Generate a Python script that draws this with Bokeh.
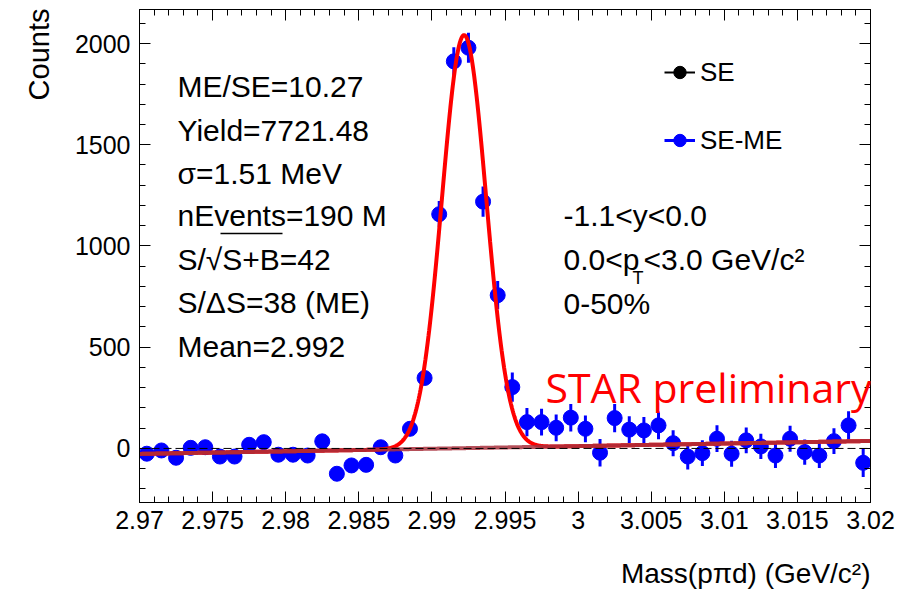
import numpy as np
from bokeh.plotting import figure
from bokeh.models import (ColumnDataSource, Label, Legend, LegendItem, LinearAxis,
                          SingleIntervalTicker, FixedTicker, CustomJSTickFormatter, Range1d, Span)
from bokeh.embed import file_html
from bokeh.resources import INLINE

# ---------------- data ----------------
mass_bins = [2.9705, 2.9715, 2.9725, 2.9735, 2.9745, 2.9755, 2.9765, 2.9775, 2.9785, 2.9795,
             2.9805, 2.9815, 2.9825, 2.9835, 2.9845, 2.9855, 2.9865, 2.9875, 2.9885, 2.9895,
             2.9905, 2.9915, 2.9925, 2.9935, 2.9945, 2.9955, 2.9965, 2.9975, 2.9985, 2.9995,
             3.0005, 3.0015, 3.0025, 3.0035, 3.0045, 3.0055, 3.0065, 3.0075, 3.0085, 3.0095,
             3.0105, 3.0115, 3.0125, 3.0135, 3.0145, 3.0155, 3.0165, 3.0175, 3.0185, 3.0195]
se_me_counts = [-26, -10, -46, 3, 6, -40, -40, 18, 31, -31,
                -31, -35, 35, -125, -84, -81, 6, -35, 97, 348,
                1157, 1912, 1979, 1219, 757, 303, 130, 130, 102, 152,
                97, -21, 150, 93, 89, 114, 26, -40, -23, 48,
                -26, 40, 10, -35, 48, -18, -35, 36, 114, -71]
se_me_errors = [30, 30, 30, 30, 30, 30, 30, 30, 30, 30,
                30, 30, 30, 30, 30, 30, 30, 30, 32, 35,
                65, 70, 74, 75, 70, 72, 70, 66, 66, 68,
                66, 68, 70, 66, 66, 68, 64, 64, 64, 66,
                64, 64, 62, 62, 64, 62, 62, 64, 70, 70]

# fit parameters (from the chart text)
fit_mean = 2.9922
fit_sigma = 0.00151
fit_yield = 7721.48
bin_width = 0.001
bkg_left = -27.0    # linear background at 2.97
bkg_right = 37.0    # linear background at 3.02

y_tick_values = [0, 500, 1000, 1500, 2000]

x_title = "Mass(pπd) (GeV/c²)"
y_title = "Counts"
info_lines = ["ME/SE=10.27", "Yield=7721.48", "σ=1.51 MeV", "nEvents=190 M",
              "S/√S+B=42", "S/ΔS=38 (ME)", "Mean=2.992"]
cut_lines = ["-1.1<y<0.0", "0-50%"]

X0, X1 = 2.97, 3.02
Y0, Y1 = -267.0, 2168.0

# ---------------- layout helpers ----------------
FL, FR, FT, FB = 139, 870, 9, 502   # frame in pixels


def px_x(px):
    return X0 + (px - FL) / (FR - FL) * (X1 - X0)


def py_y(py):
    return Y0 + (FB - py) / (FB - FT) * (Y1 - Y0)


FONT = "Liberation Sans"

p = figure(width=921, height=590, x_range=Range1d(X0, X1), y_range=Range1d(Y0, Y1),
           output_backend="svg", toolbar_location=None,
           min_border_left=FL, min_border_right=921 - FR, min_border_top=FT,
           min_border_bottom=590 - FB)
p.xgrid.visible = False
p.ygrid.visible = False
p.outline_line_color = "black"
p.outline_line_width = 1
p.outline_line_alpha = 1.0
p.background_fill_color = "white"
p.border_fill_color = "white"

fmt = CustomJSTickFormatter(code="return String(parseFloat(tick.toFixed(4)));")
blank_fmt = CustomJSTickFormatter(code="return '';")
yminor = [v for v in range(-200, 2200, 100)]


def style_axis(ax, labels=True):
    ax.axis_line_color = "black"
    ax.axis_line_width = 1
    ax.major_tick_in = 11
    ax.major_tick_out = 0
    ax.minor_tick_in = 6
    ax.minor_tick_out = 0
    ax.major_tick_line_color = "black"
    ax.minor_tick_line_color = "black"
    ax.major_tick_line_width = 1
    ax.minor_tick_line_width = 1
    ax.major_label_text_font = FONT
    if labels:
        ax.major_label_text_color = "black"
        ax.major_label_text_font_size = "25px"
    else:
        ax.formatter = blank_fmt
        ax.major_label_text_color = None
        ax.major_label_text_font_size = "1px"
        ax.major_label_standoff = 0


xa = p.xaxis[0]
xa.ticker = SingleIntervalTicker(interval=0.005, num_minor_ticks=5)
xa.formatter = fmt
style_axis(xa)
xa.major_label_standoff = 8

ya = p.yaxis[0]
ya.ticker = FixedTicker(ticks=y_tick_values, minor_ticks=yminor)
style_axis(ya)
ya.major_label_standoff = 9

top_ax = LinearAxis(ticker=SingleIntervalTicker(interval=0.005, num_minor_ticks=5))
style_axis(top_ax, labels=False)
p.add_layout(top_ax, "above")
right_ax = LinearAxis(ticker=FixedTicker(ticks=y_tick_values, minor_ticks=yminor))
style_axis(right_ax, labels=False)
p.add_layout(right_ax, "right")

# axis titles, placed in the side panels (right/top aligned, ROOT style)
p.add_layout(Label(x=px_x(870), y=py_y(573), text=x_title, text_font=FONT,
                   text_font_size="28px", text_baseline="alphabetic", text_align="right",
                   text_color="black"), "below")
p.add_layout(Label(x=px_x(38), y=py_y(8), text=y_title, text_font=FONT,
                   text_font_size="29px", text_baseline="alphabetic", text_align="right",
                   text_color="black", angle=np.pi / 2), "left")

# zero dashed line
p.add_layout(Span(location=0, dimension="width", line_color="black", line_width=1,
                  line_dash="8 4"))

# data
mb = np.array(mass_bins)
cnt = np.array(se_me_counts, dtype=float)
err = np.array(se_me_errors, dtype=float)
src = ColumnDataSource(dict(x=mb, y=cnt, lo=cnt - err, hi=cnt + err))
err_r = p.segment(x0="x", y0="lo", x1="x", y1="hi", source=src, line_color="#0000ff",
                  line_width=3)
pts_r = p.scatter(x="x", y="y", source=src, size=15, fill_color="#0000ff",
                  line_color="#0000ff")

# fit curves
xf = np.linspace(X0, X1, 1200)
bkg = bkg_left + (bkg_right - bkg_left) * (xf - X0) / (X1 - X0)
amp = fit_yield * bin_width / (fit_sigma * np.sqrt(2 * np.pi))
tot = amp * np.exp(-0.5 * ((xf - fit_mean) / fit_sigma) ** 2) + bkg
p.line(xf, tot, line_color="#ff0000", line_width=4)
p.line(xf, bkg, line_color="#a8303c", line_width=4, line_alpha=0.85)

# SE series: off-scale in this view, kept only as a legend entry
se_src = ColumnDataSource(dict(x=np.array([np.nan]), y=np.array([np.nan])))
se_line = p.line("x", "y", source=se_src, line_color="black", line_width=2)
se_pts = p.scatter("x", "y", source=se_src, size=7, color="black")

legend = Legend(items=[LegendItem(label="SE", renderers=[se_line, se_pts]),
                       LegendItem(label="SE-ME", renderers=[err_r, pts_r])],
                location=(525, 342), orientation="vertical",
                glyph_width=31, glyph_height=40, spacing=28, padding=0, margin=0,
                label_standoff=5, label_text_font=FONT, label_text_font_size="26px",
                label_text_color="black",
                border_line_color=None, background_fill_alpha=0.0)
p.add_layout(legend)

# info text block
baselines = [86, 129.5, 172.5, 215, 258.5, 302, 346]
for txt, by in zip(info_lines, baselines):
    p.add_layout(Label(x=px_x(177), y=py_y(by), text=txt, text_font=FONT,
                       text_font_size="30px", text_baseline="alphabetic",
                       text_color="black"))
# overline of the square root
p.segment(x0=[px_x(220)], y0=[py_y(233)], x1=[px_x(282)], y1=[py_y(233)],
          line_color="black", line_width=1.5)


# cut text block
def cut_label(px, by, txt, size="30px"):
    p.add_layout(Label(x=px_x(px), y=py_y(by), text=txt, text_font=FONT,
                       text_font_size=size, text_baseline="alphabetic", text_color="black"))


cut_label(563, 215, cut_lines[0])
cut_label(563, 259, "0.0<p")
cut_label(632, 277, "T", "18px")
cut_label(643, 259, "<3.0 GeV/c²")
cut_label(563, 303, cut_lines[1])

# STAR preliminary
p.add_layout(Label(x=px_x(545), y=py_y(386), text="STAR preliminary", text_font="Open Sans",
                   text_font_size="41px", text_baseline="alphabetic", text_color="#ff0000"))

open("out.html", "w").write(file_html(p, INLINE))
